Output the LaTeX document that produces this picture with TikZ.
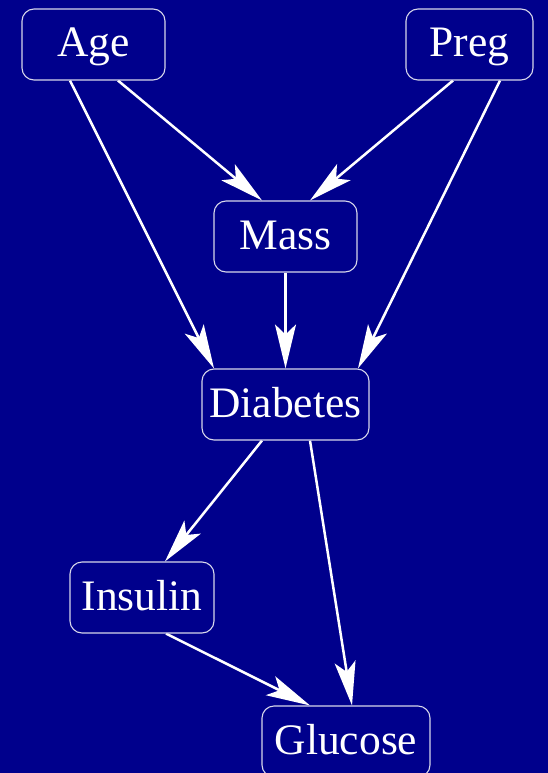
\documentclass[tikz,border=0pt]{standalone}
\usepackage{fontspec}
\setmainfont{Liberation Serif}
\usepackage{tikz}
\usetikzlibrary{arrows.meta}
\definecolor{navy}{RGB}{0,0,140}
\definecolor{rim}{RGB}{215,215,235}
\pgfdeclarelayer{bglayer}
\pgfdeclarelayer{edgelayer}
\pgfdeclarelayer{nodelayer}
\pgfsetlayers{bglayer,edgelayer,nodelayer,main}
\tikzstyle{var}=[rectangle,rounded corners=12pt,draw=rim,line width=1.1pt,fill=navy,text=white,minimum height=71pt,inner sep=0pt,text height=30pt,text depth=5pt,font=\fontsize{43.5}{50}\selectfont]
\tikzstyle{none}=[inner sep=0pt]
\tikzstyle{edge}=[-{Stealth[length=44pt,width=21pt,inset=10pt]},draw=white,line width=2.5pt]

\begin{document}
\begin{tikzpicture}[x=1pt,y=-1pt]
	\begin{pgfonlayer}{bglayer}
		\fill [navy] (0,0) rectangle (548,773);
	\end{pgfonlayer}
	\useasboundingbox (0,0) rectangle (548,773);
	\begin{pgfonlayer}{nodelayer}
		\node [style=var, minimum width=143pt] (Age) at (93.5, 44.5) {Age};
		\node [style=var, minimum width=127pt] (Preg) at (469.5, 44.5) {Preg};
		\node [style=var, minimum width=143pt] (Mass) at (285.5, 236.5) {Mass};
		\node [style=var, minimum width=167pt] (Diabetes) at (285.5, 404.5) {Diabetes};
		\node [style=var, minimum width=144pt] (Insulin) at (142, 597.5) {Insulin};
		\node [style=var, minimum width=168pt] (Glucose) at (346, 741.5) {Glucose};
	\end{pgfonlayer}
	\begin{pgfonlayer}{edgelayer}
		\draw [style=edge] ([xshift=24.5pt]Age.south) to ([xshift=-23.5pt]Mass.north);
		\draw [style=edge] ([xshift=-23.5pt]Age.south) to ([xshift=-71.5pt]Diabetes.north);
		\draw [style=edge] ([xshift=-16.5pt]Preg.south) to ([xshift=24.5pt]Mass.north);
		\draw [style=edge] ([xshift=30.5pt]Preg.south) to ([xshift=72.5pt]Diabetes.north);
		\draw [style=edge] (Mass.south) to (Diabetes.north);
		\draw [style=edge] ([xshift=-23.5pt]Diabetes.south) to ([xshift=23pt]Insulin.north);
		\draw [style=edge] ([xshift=24.5pt]Diabetes.south) to ([xshift=6pt]Glucose.north);
		\draw [style=edge] ([xshift=24pt]Insulin.south) to ([xshift=-36pt]Glucose.north);
	\end{pgfonlayer}
\end{tikzpicture}
\end{document}
